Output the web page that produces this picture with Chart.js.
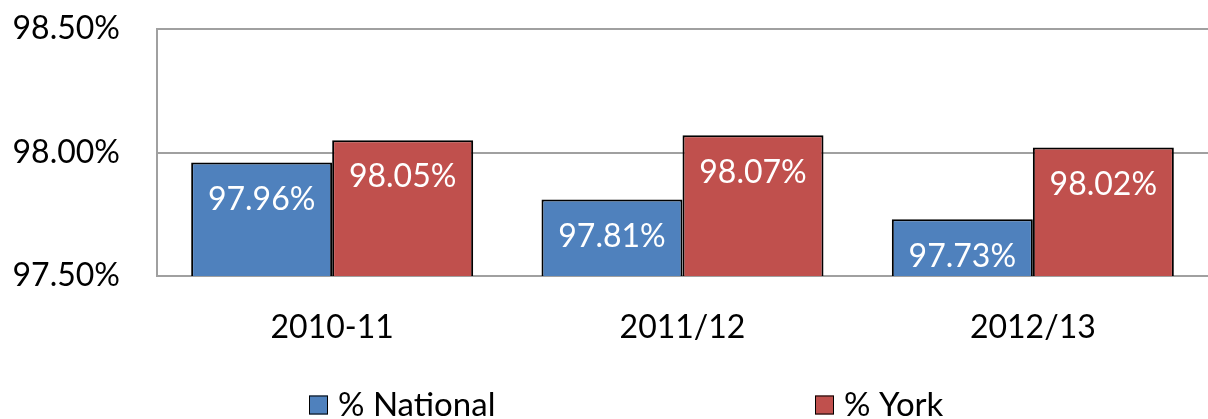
<!DOCTYPE html>
<html>
<head>
<meta charset="utf-8">
<script src="https://cdn.jsdelivr.net/npm/chart.js@4"></script>
<style>
  html, body { margin: 0; padding: 0; background: #fff; }
  #wrap { width: 1208px; height: 419px; }
</style>
</head>
<body>
<div id="wrap"><canvas id="chart" width="1208" height="419"></canvas></div>
<script>
// Values
const years = ['2010-11', '2011/12', '2012/13'];
const nationalValues = [97.96, 97.81, 97.73];
const yorkValues = [98.05, 98.07, 98.02];

const FONT = 'Lato, "Open Sans", sans-serif';

// Draw white value labels just inside the top of each bar
// (kept inside the bar when the bar is short, as the spreadsheet does)
const barLabels = {
    id: 'barLabels',
    afterDatasetsDraw(chart) {
        const ctx = chart.ctx;
        ctx.save();
        ctx.fillStyle = '#ffffff';
        ctx.font = '32px ' + FONT;
        ctx.textAlign = 'center';
        ctx.textBaseline = 'middle';
        chart.data.datasets.forEach((ds, i) => {
            chart.getDatasetMeta(i).data.forEach((bar, j) => {
                const y = Math.min(bar.y + 37, bar.base - 33);
                ctx.fillText(ds.data[j].toFixed(2) + '%', bar.x, y);
            });
        });
        ctx.restore();
    }
};

// Wide-spaced legend along the bottom, like the spreadsheet original
const wideLegend = {
    id: 'wideLegend',
    afterDraw(chart) {
        const ctx = chart.ctx;
        const step = 506;
        const box = 19;
        ctx.save();
        ctx.font = '33px ' + FONT;
        ctx.textBaseline = 'middle';
        let x = chart.width / 2 - 295;
        const y = 405;
        chart.data.datasets.forEach(ds => {
            ctx.fillStyle = ds.backgroundColor;
            ctx.fillRect(x, y - box / 2, box, box);
            ctx.strokeStyle = '#000';
            ctx.lineWidth = 1;
            ctx.strokeRect(x + 0.5, y - box / 2 + 0.5, box - 1, box - 1);
            ctx.fillStyle = '#000';
            ctx.fillText(ds.label, x + box + 10, y);
            x += step;
        });
        ctx.restore();
    }
};

new Chart(document.getElementById('chart'), {
    type: 'bar',
    data: {
        labels: years,
        datasets: [
            {
                label: '% National',
                data: nationalValues,
                backgroundColor: '#4F81BD',
                borderColor: '#000000',
                borderWidth: 2
            },
            {
                label: '% York',
                data: yorkValues,
                backgroundColor: '#C0504D',
                borderColor: '#000000',
                borderWidth: 2
            }
        ]
    },
    options: {
        responsive: false,
        animation: false,
        layout: { padding: { left: 12, right: 0, top: 29, bottom: 74 } },
        datasets: {
            bar: { categoryPercentage: 0.805, barPercentage: 1.0 }
        },
        plugins: {
            legend: { display: false },
            tooltip: { enabled: false }
        },
        scales: {
            x: {
                afterFit(scale) { scale.height = 69; },
                grid: { display: false, drawTicks: false },
                border: { display: true, color: '#a0a0a0', width: 2 },
                ticks: {
                    color: '#000',
                    font: { family: FONT, size: 32 },
                    padding: 32
                }
            },
            y: {
                min: 97.5,
                max: 98.5,
                afterFit(scale) {
                    scale.width = 145;
                    scale.paddingTop = 0;
                    scale.paddingBottom = 0;
                },
                grid: { color: '#a0a0a0', lineWidth: 2, drawTicks: false },
                border: { display: true, color: '#a0a0a0', width: 2 },
                ticks: {
                    stepSize: 0.5,
                    autoSkip: false,
                    color: '#000',
                    font: { family: FONT, size: 32 },
                    padding: 37,
                    callback: v => v.toFixed(2) + '%'
                }
            }
        }
    },
    plugins: [barLabels, wideLegend]
});
</script>
</body>
</html>
